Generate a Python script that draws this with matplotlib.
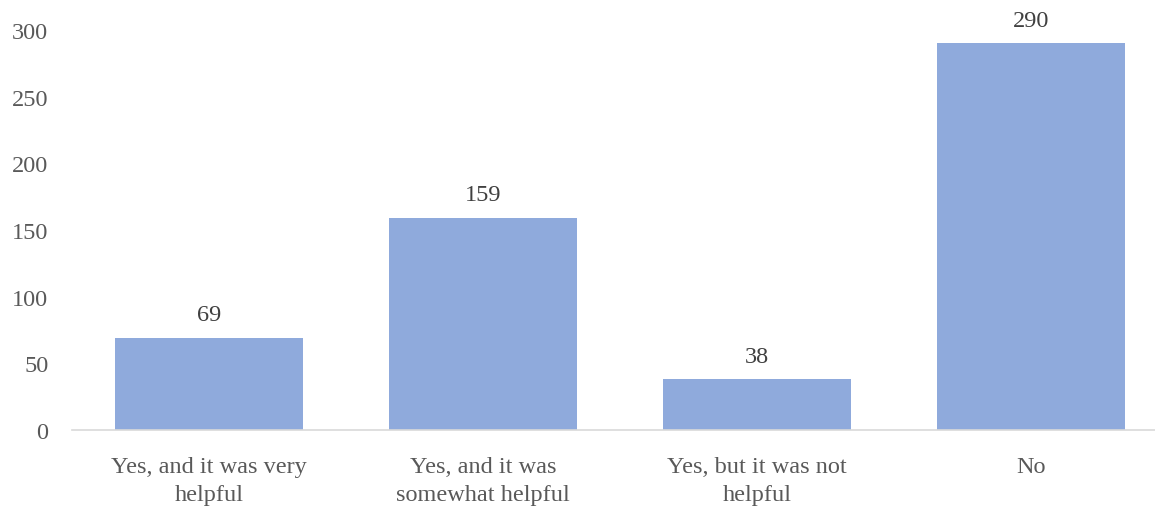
import matplotlib
matplotlib.use("Agg")
import matplotlib.pyplot as plt

categories = ["Yes, and it was very\nhelpful", "Yes, and it was\nsomewhat helpful",
              "Yes, but it was not\nhelpful", "No"]
values = [69, 159, 38, 290]
yticks = [0, 50, 100, 150, 200, 250, 300]

plt.rcParams['font.family'] = ['Liberation Serif', 'DejaVu Serif']
W, H = 1155, 510
fig = plt.figure(figsize=(W/100, H/100), dpi=100)
ax = fig.add_axes([72/W, 79/H, 1096/W, 400/H])

x = range(len(categories))
bars = ax.bar(x, values, width=0.686, color='#8FAADC', zorder=2)
for xi, v in zip(x, values):
    ax.annotate(str(v), (xi, v), xytext=(0, 9), textcoords='offset points',
                ha='center', va='bottom', fontsize=17.5, color='#404040')

ax.set_xlim(-0.5, 3.5)
ax.set_ylim(0, 300)
ax.set_yticks(yticks)
ax.set_xticks(list(x))
ax.set_xticklabels(categories, fontsize=17.5, color='#595959', linespacing=1.4)
ax.tick_params(axis='y', labelsize=17.5, labelcolor='#595959', length=0, pad=17)
ax.tick_params(axis='x', length=0, pad=19)
for s in ['top', 'right', 'left']:
    ax.spines[s].set_visible(False)
ax.spines['bottom'].set_color('#D9D9D9')
ax.spines['bottom'].set_linewidth(1.2)
fig.savefig('out.png', dpi=100)
